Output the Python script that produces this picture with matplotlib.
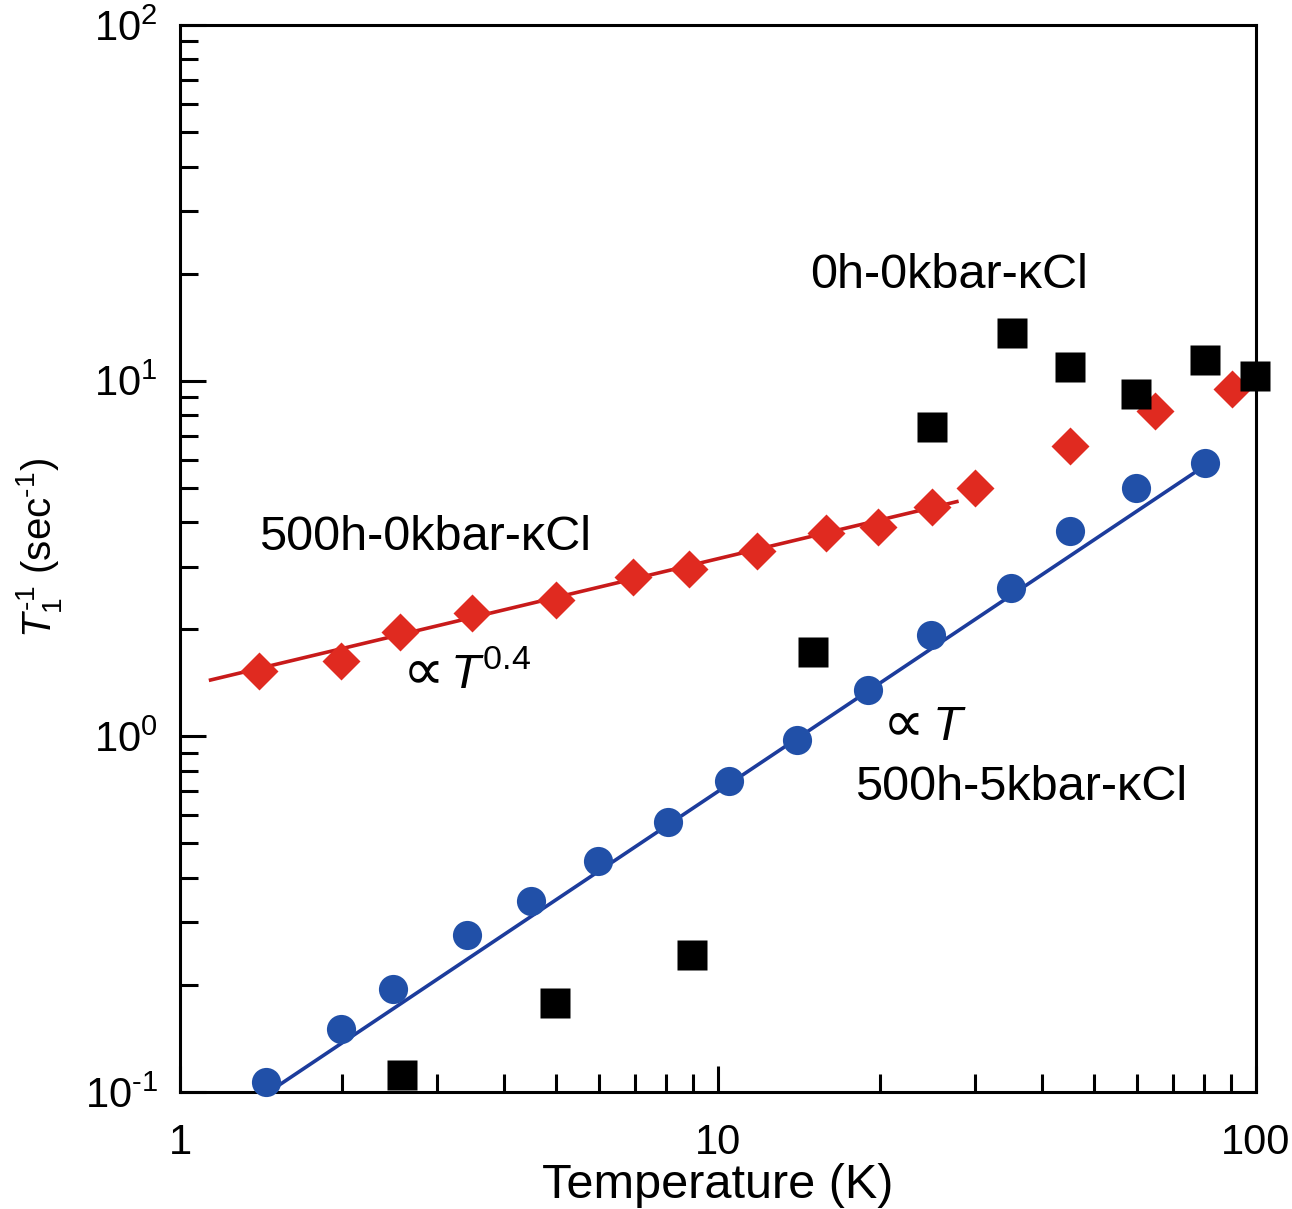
import matplotlib
matplotlib.use("Agg")
import matplotlib.pyplot as plt
from matplotlib.ticker import LogLocator, NullFormatter, FixedLocator, FixedFormatter

plt.rcParams['font.family'] = ['Liberation Sans', 'DejaVu Sans']
plt.rcParams['mathtext.fontset'] = 'custom'
plt.rcParams['mathtext.rm'] = 'Liberation Sans'
plt.rcParams['mathtext.it'] = 'Liberation Sans:italic'
plt.rcParams['mathtext.default'] = 'regular'

# 500h-0kbar-kCl (red diamonds)
red_T = [1.40, 1.99, 2.56, 3.49, 5.0, 6.95, 8.83, 11.8, 15.9, 19.8, 25.0, 30.0, 45.1, 64.9, 90.2]
red_R = [1.53, 1.63, 1.97, 2.22, 2.41, 2.81, 2.96, 3.33, 3.72, 3.87, 4.40, 5.0, 6.57, 8.24, 9.5]
red_fit_T = [1.14, 27.8]
red_fit_R = [1.44, 4.57]

# 500h-5kbar-kCl (blue circles)
blue_T = [1.445, 1.99, 2.49, 3.42, 4.49, 5.98, 8.07, 10.5, 14.0, 19.0, 24.9, 35.0, 45.1, 59.8, 80.4]
blue_R = [0.107, 0.150, 0.195, 0.276, 0.344, 0.446, 0.573, 0.748, 0.975, 1.35, 1.93, 2.62, 3.77, 5.0, 5.85]
blue_fit_T = [1.50, 80.4]
blue_fit_R = [0.1026, 5.77]

# 0h-0kbar-kCl (black squares)
black_T = [2.59, 4.98, 8.95, 15.0, 25.0, 35.2, 45.1, 59.8, 80.4, 99.5]
black_R = [0.1116, 0.178, 0.243, 1.73, 7.43, 13.6, 10.9, 9.19, 11.4, 10.3]

x_ticks = [1, 10, 100]
x_ticklabels = ['1', '10', '100']
y_ticks = [0.1, 1, 10, 100]
y_ticklabels = ['$10^{\u20101}$', '$10^{0}$', '$10^{1}$', '$10^{2}$']

fig = plt.figure(figsize=(12.92, 12.09), dpi=100)
ax = fig.add_axes([0.1393, 0.0968, 0.8328, 0.8825])
ax.set_xscale('log')
ax.set_yscale('log')
ax.set_xlim(1, 100)
ax.set_ylim(0.1, 100)

red_c = '#e02a20'
blue_c = '#2150a8'

ax.plot(red_fit_T, red_fit_R, '-', color='#c81a1a', lw=2.6, zorder=2)
ax.plot(blue_fit_T, blue_fit_R, '-', color='#1c3c9c', lw=2.6, zorder=2)
ax.plot(red_T, red_R, 'D', color=red_c, ms=19, mec='none', zorder=3, clip_on=False)
ax.plot(blue_T, blue_R, 'o', color=blue_c, ms=21, mec='none', zorder=3, clip_on=False)
ax.plot(black_T, black_R, 's', color='black', ms=21, mec='none', zorder=4, clip_on=False)

for s in ax.spines.values():
    s.set_linewidth(2.2)

ax.xaxis.set_major_locator(FixedLocator(x_ticks))
ax.xaxis.set_major_formatter(FixedFormatter(x_ticklabels))
ax.xaxis.set_minor_locator(LogLocator(base=10, subs=range(2, 10)))
ax.xaxis.set_minor_formatter(NullFormatter())
ax.yaxis.set_major_locator(FixedLocator(y_ticks))
ax.yaxis.set_major_formatter(FixedFormatter(y_ticklabels))
ax.yaxis.set_minor_locator(LogLocator(base=10, subs=range(2, 10)))
ax.yaxis.set_minor_formatter(NullFormatter())

ax.tick_params(which='both', direction='in', top=False, right=False, width=2.2)
ax.tick_params(which='major', length=19)
ax.tick_params(which='minor', length=13)
ax.tick_params(axis='x', which='major', labelsize=30, pad=22)
ax.tick_params(axis='y', which='major', labelsize=30, pad=16)

ax.set_xlabel('Temperature (K)', fontsize=35, labelpad=0)
ax.set_ylabel('$\\mathit{T}_{1}^{\u20101}$ (sec$^{\u20101}$)', fontsize=29)
ax.yaxis.set_label_coords(-0.108, 0.51)

fs = 35
ax.text(0.586, 0.7535, '0h-0kbar-κCl', transform=ax.transAxes, fontsize=fs, ha='left', va='baseline')
ax.text(0.073, 0.508, '500h-0kbar-κCl', transform=ax.transAxes, fontsize=fs, ha='left', va='baseline')
ax.text(0.627, 0.2737, '500h-5kbar-κCl', transform=ax.transAxes, fontsize=fs, ha='left', va='baseline')

ax.text(0.207, 0.3786, '∝', transform=ax.transAxes, fontsize=42, family='DejaVu Sans', ha='left', va='baseline')
ax.text(0.251, 0.3786, '$\\mathit{T}^{0.4}$', transform=ax.transAxes, fontsize=fs, ha='left', va='baseline')
ax.text(0.653, 0.330, '∝', transform=ax.transAxes, fontsize=42, family='DejaVu Sans', ha='left', va='baseline')
ax.text(0.699, 0.330, '$\\mathit{T}$', transform=ax.transAxes, fontsize=fs, ha='left', va='baseline')

fig.savefig('out.png', dpi=100)
